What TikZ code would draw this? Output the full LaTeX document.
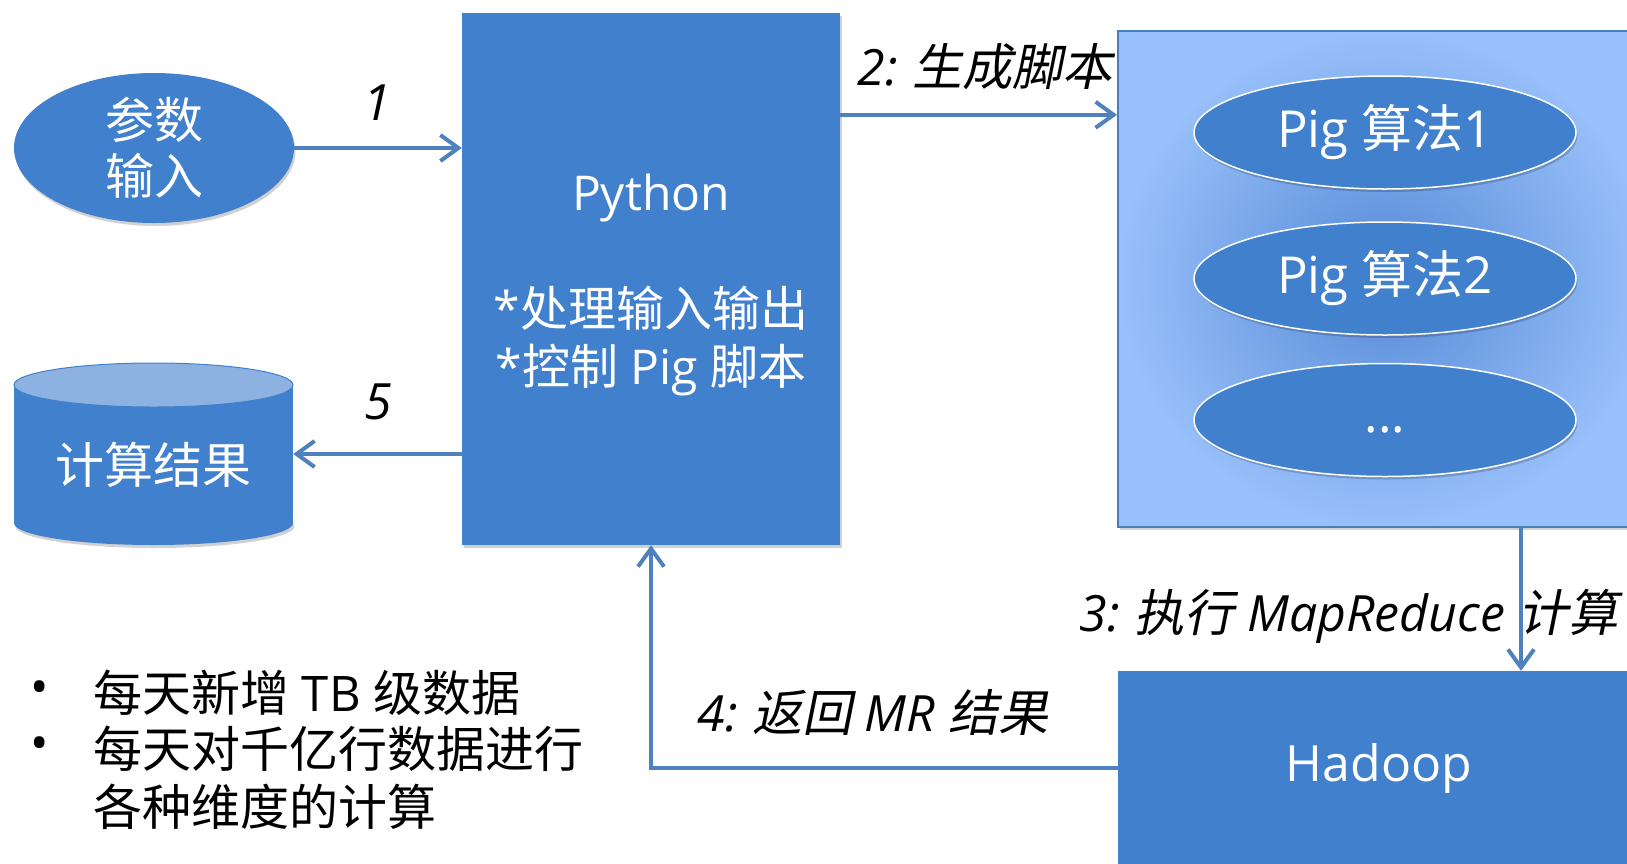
\documentclass[tikz,border=0pt]{standalone}
\usepackage{fontspec}
\setmainfont{Open Sans}
\newfontfamily\cjk{Noto Sans CJK SC}
\newfontfamily\cjkit[FakeSlant=0.2]{Noto Sans CJK SC}
\usetikzlibrary{arrows.meta,shapes.geometric,shadows}
\definecolor{boxblue}{RGB}{64,128,204}
\definecolor{arrowblue}{RGB}{79,129,189}
\definecolor{cyltopc}{RGB}{141,178,226}
\definecolor{panelborder}{RGB}{74,126,187}
\definecolor{panelin}{RGB}{86,138,214}
\definecolor{panelout}{RGB}{152,192,250}
\begin{document}
\begin{tikzpicture}[x=1pt,y=-1pt,
  flow/.style={draw=arrowblue, line width=4pt,
    -{Straight Barb[length=18pt,width=26pt]}},
  softshadow/.style={drop shadow={shadow xshift=1.5pt, shadow yshift=-3pt, opacity=0.18, fill=black}},
  bluebox/.style={rectangle, fill=boxblue, inner sep=0pt, text=white,
    font=\fontsize{48}{58}\selectfont, align=center, softshadow},
  boxtext/.style={text=white, inner sep=0pt, font=\fontsize{48}{58}\selectfont, align=center},
  blueoval/.style={ellipse, fill=boxblue, inner sep=0pt, text=white,
    font=\fontsize{49}{56}\selectfont, align=center, softshadow},
  pigoval/.style={blueoval, draw=white, line width=1.5pt,
    font=\fontsize{51}{60}\selectfont,
    minimum width=382pt, minimum height=113pt},
  steplabel/.style={text=black, font=\fontsize{50}{60}\selectfont\itshape, inner sep=0pt},
  listtext/.style={text=black, font=\fontsize{49}{56}\selectfont, inner sep=0pt, anchor=west}
]
\useasboundingbox (0,0) rectangle (1627,863);
\clip (0,0) rectangle (1627,863);
\fill[white] (0,0) rectangle (1627,863);

% input ellipse
\node[blueoval, font=\fontsize{49}{56}\selectfont\cjk, minimum width=280pt, minimum height=150pt]
  (inp) at (154,148) {参数\\输入};

% python box
\node[bluebox, minimum width=378pt, minimum height=532pt] (py) at (651,279) {};
\node[boxtext] (pytext) at (651,285)
  {Python\\~\\*{\cjk 处理输入输出}\\*{\cjk 控制} Pig {\cjk 脚本}};

% pig panel
\node[rectangle, draw=panelborder, line width=2pt, inner color=panelin, outer color=panelout,
  minimum width=534pt, minimum height=496pt, inner sep=0pt, softshadow] (pan) at (1385,279) {};
\node[pigoval] (p1) at (1385,132.5) {Pig {\cjk 算法}1};
\node[pigoval] (p2) at (1385,278.5) {Pig {\cjk 算法}2};
\node[pigoval] (p3) at (1385,420) {\vphantom{Pig}...};

% hadoop
\node[bluebox, font=\fontsize{50}{60}\selectfont, minimum width=522pt, minimum height=194pt]
  (had) at (1379,768) {Hadoop};

% cylinder
\node[ellipse, fill=boxblue, minimum width=279pt, minimum height=44pt, inner sep=0pt, softshadow] (cylbot) at (153.5,523) {};
\node[rectangle, fill=boxblue, minimum width=279pt, minimum height=138pt, inner sep=0pt] (cylbody) at (153.5,454) {};
\node[ellipse, fill=cyltopc, draw=boxblue, line width=1pt, minimum width=279pt, minimum height=44pt, inner sep=0pt] (cyltop) at (153.5,385) {};
\node[text=white, font=\fontsize{49}{56}\selectfont\cjk, inner sep=0pt] (cyltext) at (153.5,465) {计算结果};

% connectors
\draw[flow] (inp.east) -- (inp.east -| py.west);
\draw[flow] ([yshift=-102pt]py.north east) coordinate (s2) -- (s2 -| pan.west);
\draw[flow] ([xshift=136pt]pan.south) coordinate (s3) -- (s3 |- had.north);
\draw[flow] (had.west) -- (had.west -| py.south) -- (py.south);
\draw[flow] (py.west |- cylbody.east) -- (cylbody.east);

% labels
\node[steplabel] (l1) at (377,103) {1};
\node[steplabel] (l5) at (378,402) {5};
\node[steplabel] (l2) at (985,67) {2:\hspace{-3pt} {\cjkit 生成脚本}};
\node[steplabel] (l3) at (1349,616) {3:\hspace{-3pt} {\cjkit 执行} MapReduce {\cjkit 计算}};
\node[steplabel] (l4) at (873,712) {4:\hspace{-3pt} {\cjkit 返回} MR {\cjkit 结果}};

% bullet list
\node[listtext] (b1) at (30,693) {\textbullet};
\node[listtext] (b2) at (30,749) {\textbullet};
\node[listtext] (t1) at (93,693) {{\cjk 每天新增} TB {\cjk 级数据}};
\node[listtext] (t2) at (93,749) {{\cjk 每天对千亿行数据进行}};
\node[listtext] (t3) at (93,807) {{\cjk 各种维度的计算}};
\end{tikzpicture}
\end{document}
